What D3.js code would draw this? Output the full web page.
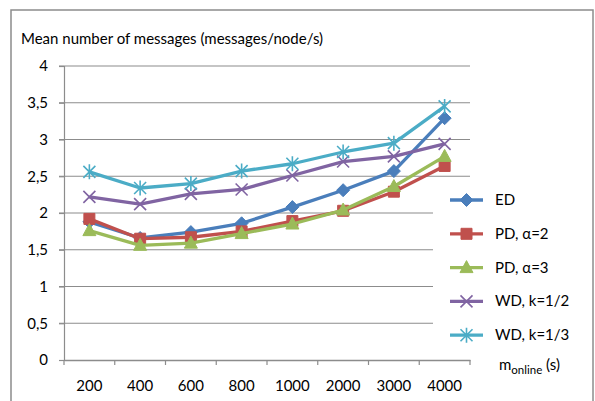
<!DOCTYPE html>
<html>
<head>
<meta charset="utf-8">
<script src="https://cdn.jsdelivr.net/npm/d3@7"></script>
<style>
  html, body { margin: 0; padding: 0; background: #fff; }
  svg { display: block; }
  text { font-family: Lato, "Open Sans", sans-serif; fill: #000; }
</style>
</head>
<body>
<svg id="chart" width="595" height="401"></svg>
<script>
// Categories on the x axis (m_online, seconds)
const categories = ["200", "400", "600", "800", "1000", "2000", "3000", "4000"];

// Mean number of messages per node per second, one array per scheme
const ed      = [1.88, 1.66, 1.74, 1.86, 2.08, 2.31, 2.57, 3.29];
const pdA2    = [1.92, 1.65, 1.67, 1.75, 1.89, 2.03, 2.29, 2.64];
const pdA3    = [1.76, 1.56, 1.59, 1.72, 1.85, 2.04, 2.36, 2.77];
const wdK12   = [2.22, 2.12, 2.26, 2.32, 2.51, 2.70, 2.77, 2.94];
const wdK13   = [2.56, 2.34, 2.40, 2.57, 2.67, 2.83, 2.95, 3.45];

const seriesNames = ["ED", "PD, \u03b1=2", "PD, \u03b1=3", "WD, k=1/2", "WD, k=1/3"];
const yTicks = [0, 0.5, 1, 1.5, 2, 2.5, 3, 3.5, 4];

const FS = 15;

const series = [
  { name: seriesNames[0], values: ed,    color: "#4A7EBB", marker: "diamond" },
  { name: seriesNames[1], values: pdA2,  color: "#C0504D", marker: "square" },
  { name: seriesNames[2], values: pdA3,  color: "#9BBB59", marker: "triangle" },
  { name: seriesNames[3], values: wdK12, color: "#8064A2", marker: "x" },
  { name: seriesNames[4], values: wdK13, color: "#4BACC6", marker: "star" }
];

const svg = d3.select("#chart");

// Chart frame
svg.append("rect")
  .attr("x", 11).attr("y", 10)
  .attr("width", 582).attr("height", 420)
  .attr("fill", "#fff")
  .attr("stroke", "#8c8c8c").attr("stroke-width", 1.5);

const plot = { left: 64, right: 470, top: 66, bottom: 360 };

const x = d3.scaleBand().domain(categories).range([plot.left, plot.right]).paddingInner(0).paddingOuter(0);
const y = d3.scaleLinear().domain([0, 4]).range([plot.bottom, plot.top]);
const cx = c => x(c) + x.bandwidth() / 2;

// Horizontal gridlines with small outer ticks
svg.append("g").selectAll("line").data(yTicks.filter(t => t > 0)).join("line")
  .attr("x1", plot.left - 5).attr("x2", plot.right)
  .attr("y1", d => y(d)).attr("y2", d => y(d))
  .attr("stroke", "#8c8c8c").attr("stroke-width", 1.2);

// Y axis (vertical line + labels)
const yAxis = d3.axisLeft(y).tickValues(yTicks).tickSize(5).tickPadding(11)
  .tickFormat(d => String(d).replace(".", ","));
const gy = svg.append("g").attr("transform", `translate(${plot.left},0)`).call(yAxis);
gy.select(".domain").attr("stroke", "#8c8c8c").attr("stroke-width", 1.2);
gy.selectAll(".tick line").attr("stroke", "#8c8c8c").attr("stroke-width", 1.2);
gy.selectAll(".tick text").attr("font-size", FS).attr("font-family", "Lato, sans-serif").attr("fill", "#000");

// X axis: labels centred in each category, ticks on category boundaries
const xAxis = d3.axisBottom(x).tickSize(0).tickPadding(20);
const gx = svg.append("g").attr("transform", `translate(0,${plot.bottom})`).call(xAxis);
gx.select(".domain").attr("stroke", "#8c8c8c").attr("stroke-width", 1.5);
gx.selectAll(".tick text").attr("font-size", FS).attr("font-family", "Lato, sans-serif").attr("fill", "#000");
const edges = categories.map(c => x(c)).concat([x(categories[categories.length - 1]) + x.bandwidth()]);
svg.append("g").selectAll("line").data(edges).join("line")
  .attr("x1", d => d).attr("x2", d => d)
  .attr("y1", plot.bottom).attr("y2", plot.bottom + 5)
  .attr("stroke", "#8c8c8c").attr("stroke-width", 1.2);

// Legend background (sits over the gridlines)
svg.append("rect")
  .attr("x", 433).attr("y", 184).attr("width", 158).attr("height", 166)
  .attr("fill", "#fff");

// Marker shapes
function markerPath(type) {
  switch (type) {
    case "diamond": return "M0,-6.5L6.5,0L0,6.5L-6.5,0Z";
    case "square": return "M-5.5,-5.5H5.5V5.5H-5.5Z";
    case "triangle": return "M0,-7L6.5,5L-6.5,5Z";
    case "x": return "M-6,-6L6,6M-6,6L6,-6";
    case "star": return "M-6,-6L6,6M-6,6L6,-6M0,-7.5V7.5";
  }
}
function drawMarker(g, s, px, py) {
  const filled = s.marker === "diamond" || s.marker === "square" || s.marker === "triangle";
  g.append("path")
    .attr("d", markerPath(s.marker))
    .attr("transform", `translate(${px},${py})`)
    .attr("fill", filled ? s.color : "none")
    .attr("stroke", s.color)
    .attr("stroke-width", filled ? 1 : 1.6);
}

// Series lines and markers
const line = d3.line().x((d, i) => cx(categories[i])).y(d => y(d));
series.forEach(s => {
  const g = svg.append("g");
  g.append("path").datum(s.values)
    .attr("d", line)
    .attr("fill", "none")
    .attr("stroke", s.color)
    .attr("stroke-width", 3.3)
    .attr("stroke-linejoin", "round");
  s.values.forEach((v, i) => drawMarker(g, s, cx(categories[i]), y(v)));
});

// Legend entries
series.forEach((s, i) => {
  const ly = 200 + i * 33.8;
  const g = svg.append("g");
  g.append("line").attr("x1", 450).attr("x2", 483).attr("y1", ly).attr("y2", ly)
    .attr("stroke", s.color).attr("stroke-width", 3.3);
  drawMarker(g, s, 466.5, ly);
  g.append("text").attr("x", 495).attr("y", ly + 5)
    .attr("font-size", FS).text(s.name);
});

// Axis titles
svg.append("text").attr("x", 21).attr("y", 44).attr("font-size", FS)
  .text("Mean number of messages (messages/node/s)");

const xt = svg.append("text").attr("x", 499).attr("y", 370).attr("font-size", FS);
xt.append("tspan").text("m");
xt.append("tspan").attr("font-size", 11.5).attr("dy", 4).text("online");
xt.append("tspan").attr("dy", -4).text(" (s)");
</script>
</body>
</html>
